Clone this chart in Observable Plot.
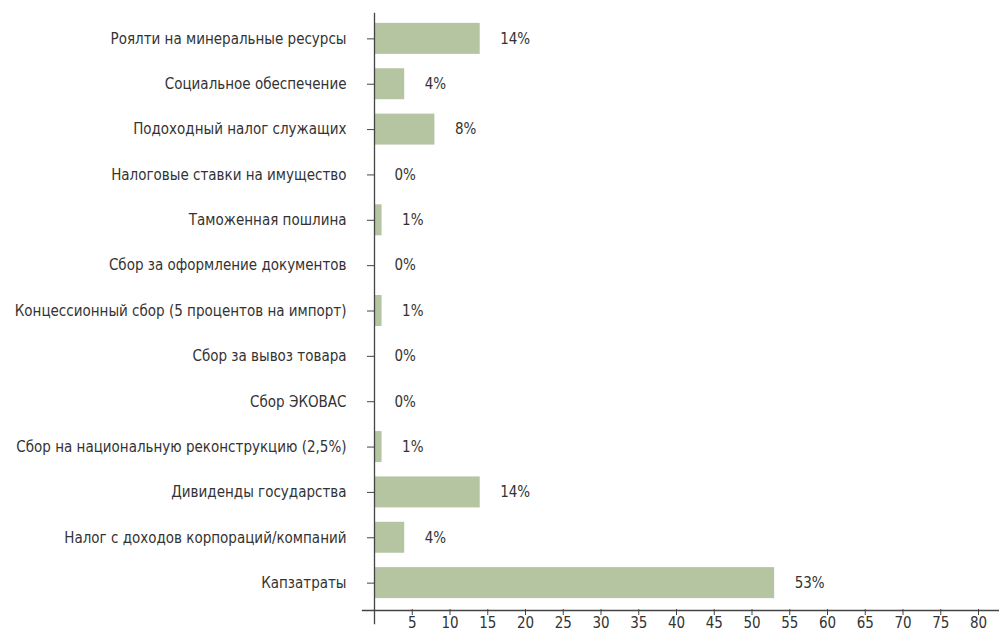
<!DOCTYPE html>
<html>
<head>
<meta charset="utf-8">
<script src="https://cdn.jsdelivr.net/npm/d3@7"></script>
<script src="https://cdn.jsdelivr.net/npm/@observablehq/plot@0.6"></script>
<style>
  html, body { margin: 0; padding: 0; background: #fff; }
  #chart { width: 999px; height: 632px; overflow: hidden; }
</style>
</head>
<body>
<div id="chart"></div>
<script>
const categories = [
  "Роялти на минеральные ресурсы",
  "Социальное обеспечение",
  "Подоходный налог служащих",
  "Налоговые ставки на имущество",
  "Таможенная пошлина",
  "Сбор за оформление документов",
  "Концессионный сбор (5 процентов на импорт)",
  "Сбор за вывоз товара",
  "Сбор ЭКОВАС",
  "Сбор на национальную реконструкцию (2,5%)",
  "Дивиденды государства",
  "Налог с доходов корпораций/компаний",
  "Капзатраты"
];
const values = [14, 4, 8, 0, 1, 0, 1, 0, 0, 1, 14, 4, 53];
const valueLabels = ["14%", "4%", "8%", "0%", "1%", "0%", "1%", "0%", "0%", "1%", "14%", "4%", "53%"];
const xTicks = [5, 10, 15, 20, 25, 30, 35, 40, 45, 50, 55, 60, 65, 70, 75, 80];

const data = categories.map((c, i) => ({category: c, value: values[i], label: valueLabels[i]}));

const font = '"Liberation Sans Narrow", "Arial Narrow", "DejaVu Sans Condensed", "Liberation Sans", sans-serif';

const chart = Plot.plot({
  width: 999,
  height: 632,
  marginLeft: 374,
  marginRight: 21,
  marginTop: 12,
  marginBottom: 23,
  style: {fontFamily: font, fontSize: "15px", color: "#333", background: "#fff"},
  x: {domain: [0, 80], label: null},
  y: {domain: categories, paddingInner: 0.317, paddingOuter: 0.24, round: false, label: null},
  marks: [
    Plot.barX(data, {x: "value", y: "category", fill: "#b5c4a1"}),
    Plot.text(data, {x: "value", y: "category", text: "label", textAnchor: "start", dx: 20, fill: "#333", fontSize: 15}),
    Plot.axisY({tickSize: 7, tickPadding: 21, fontSize: 15, stroke: "#444"}),
    Plot.axisX({ticks: xTicks, tickSize: 6, tickPadding: 2, fontSize: 15, tickFormat: d => String(d), stroke: "#444"}),
    Plot.frame({anchor: "left", insetTop: 1, insetBottom: -14, stroke: "#444", strokeWidth: 1.3}),
    Plot.frame({anchor: "bottom", insetBottom: -1, insetLeft: -12, insetRight: -21, stroke: "#444", strokeWidth: 1.3})
  ]
});
document.getElementById("chart").appendChild(chart);
</script>
</body>
</html>
